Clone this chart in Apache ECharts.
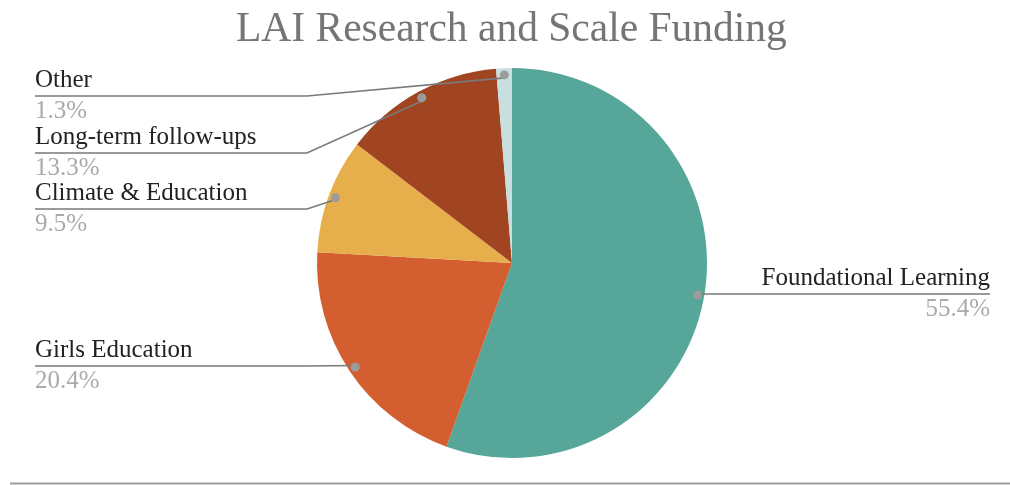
<!DOCTYPE html>
<html>
<head>
<meta charset="utf-8">
<script src="https://cdn.jsdelivr.net/npm/echarts@6/dist/echarts.min.js"></script>
<style>
  html, body { margin: 0; padding: 0; background: #ffffff; }
  #chart { width: 1010px; height: 485px; }
</style>
</head>
<body>
<div id="chart"></div>
<script>
// ---- data ----
const categories = ['Foundational Learning', 'Girls Education', 'Climate & Education', 'Long-term follow-ups', 'Other'];
const shares = [55.4, 20.4, 9.5, 13.3, 1.3];

// ---- style / layout ----
const sliceColors = ['#56A69A', '#D35F31', '#E6AF4C', '#A04421', '#C8DFDF'];
const labelRowY = [294, 366, 209, 153, 96];
const CENTER = [512, 263];
const RADIUS = 195;
const LEFT_X = 35, RIGHT_X = 990, ELBOW_X = 307;
const SERIF = '"Liberation Serif", "DejaVu Serif", serif';

const pieData = categories.map((name, i) => ({
  name: name,
  value: shares[i],
  itemStyle: { color: sliceColors[i] }
}));
const ghostData = categories.map((name, i) => ({ name: name, value: shares[i] }));

const chart = echarts.init(document.getElementById('chart'), null, { renderer: 'canvas' });

const option = {
  backgroundColor: '#ffffff',
  animation: false,
  title: {
    text: 'LAI Research and Scale Funding',
    left: 236,
    top: 9,
    padding: 0,
    textStyle: { fontFamily: SERIF, fontSize: 41.5, fontWeight: 'normal', color: '#757575' }
  },
  tooltip: { show: false },
  series: [
    {
      type: 'pie',
      z: 1,
      center: CENTER,
      radius: [0, RADIUS],
      startAngle: 90,
      clockwise: true,
      silent: true,
      label: { show: false },
      labelLine: { show: false },
      emphasis: { disabled: true },
      data: pieData
    },
    {
      // transparent copy used only to anchor the leader lines and labels
      type: 'pie',
      z: 5,
      center: CENTER,
      radius: [0, RADIUS * 0.95],
      startAngle: 90,
      clockwise: true,
      silent: true,
      avoidLabelOverlap: false,
      itemStyle: { color: 'rgba(0,0,0,0)' },
      emphasis: { disabled: true },
      label: {
        show: true,
        position: 'outside',
        formatter: function (p) {
          return '{n|' + p.name + '}\n{v|' + p.value.toFixed(1) + '%}';
        },
        rich: {
          n: { fontFamily: SERIF, fontSize: 25, color: '#222222', lineHeight: 31 },
          v: { fontFamily: SERIF, fontSize: 25, color: '#aaaaaa', lineHeight: 31 }
        }
      },
      labelLine: {
        show: true,
        length: 10,
        length2: 10,
        smooth: false,
        minTurnAngle: 0,
        maxSurfaceAngle: 180,
        lineStyle: { color: '#7a7a7a', width: 1.6 }
      },
      labelLayout: function (p) {
        const i = p.dataIndex;
        const s = p.labelLinePoints ? p.labelLinePoints[0] : [CENTER[0], CENTER[1]];
        const y = labelRowY[i];
        if (s[0] < CENTER[0]) {
          const ex = Math.min(ELBOW_X, s[0]);
          return {
            x: LEFT_X, y: y, align: 'left', verticalAlign: 'middle',
            labelLinePoints: [s, [ex, y], [LEFT_X, y]]
          };
        }
        const ex = Math.max(s[0], CENTER[0] + 10);
        return {
          x: RIGHT_X, y: y, align: 'right', verticalAlign: 'middle',
          labelLinePoints: [s, [ex + 0.5, y], [RIGHT_X, y]]
        };
      },
      data: ghostData
    },
    {
      // transparent ring whose inside labels draw the anchor dots
      type: 'pie',
      z: 6,
      center: CENTER,
      radius: [RADIUS * 0.95 - 5, RADIUS * 0.95 + 5],
      startAngle: 90,
      clockwise: true,
      silent: true,
      itemStyle: { color: 'rgba(0,0,0,0)' },
      emphasis: { disabled: true },
      label: {
        show: true,
        position: 'inside',
        formatter: '{d| }',
        rich: { d: { width: 9, height: 9, borderRadius: 4.5, backgroundColor: '#9b9b9b', fontSize: 1 } }
      },
      labelLine: { show: false },
      data: ghostData
    }
  ],
  graphic: [
    {
      type: 'line',
      silent: true,
      shape: { x1: 10, y1: 483.5, x2: 1010, y2: 483.5 },
      style: { stroke: '#a0a0a0', lineWidth: 2 }
    }
  ]
};

chart.setOption(option);
</script>
</body>
</html>
